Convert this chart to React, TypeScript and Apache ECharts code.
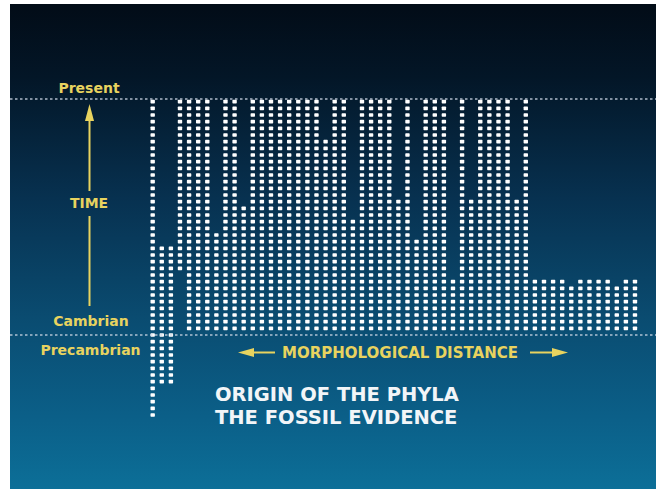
import React, { useEffect, useRef } from "react";
import * as echarts from "echarts";

// Phyla columns (left to right), rows of dots counted upward from the Cambrian line (0)
const phyla: number[] = Array.from({ length: 54 }, (_, i) => i);
const origins: number[] = [
  -12, -7, -7, 10, 1, 1, 1, 1, 1, 1,
  1, 1, 1, 1, 1, 1, 1, 1, 1, 1,
  1, 1, 1, 1, 1, 1, 1, 1, 1, 1,
  1, 1, 1, 1, 1, 1, 1, 1, 1, 1,
  1, 1, 1, 1, 1, 1, 1, 1, 1, 1,
  1, 1, 1, 1,
];
const ends: number[] = [
  35, 13, 13, 35, 35, 35, 35, 15, 35, 35,
  19, 35, 35, 35, 35, 35, 35, 35, 35, 29,
  35, 35, 17, 35, 35, 35, 35, 20, 35, 14,
  35, 35, 35, 8, 35, 20, 35, 35, 35, 35,
  20, 35, 8, 8, 8, 8, 7, 8, 8, 8,
  8, 7, 8, 8,
];
const presentLevel = 35.5;
const cambrianLevel = 0;
const timeLabels = ["Present", "TIME", "Cambrian", "Precambrian"];
const xTitle = "MORPHOLOGICAL DISTANCE";
const titleLines = ["ORIGIN OF THE PHYLA", "THE FOSSIL EVIDENCE"];

export default function App() {
  const ref = useRef<HTMLDivElement>(null);
  useEffect(() => {
    if (!ref.current) return;
    const chart = echarts.init(ref.current, undefined, { renderer: "svg" });
    const yellow = "#e8d35f";
    const font = "DejaVu Sans";
    const data = phyla.map((p, i) => [p, origins[i], ends[i]]);
    chart.setOption({
      animation: false,
      graphic: [
        {
          type: "rect",
          z: -10,
          shape: { x: 10, y: 4, width: 646, height: 485 },
          style: {
            fill: {
              type: "linear", x: 0, y: 0, x2: 0, y2: 1,
              colorStops: [
                { offset: 0, color: "#020c17" },
                { offset: 0.15, color: "#031627" },
                { offset: 0.4, color: "#073150" },
                { offset: 0.65, color: "#0a4c71" },
                { offset: 0.85, color: "#0b5f88" },
                { offset: 1, color: "#0c6f98" },
              ],
            },
          },
        },
        { type: "text", z: 10, x: 89, y: 88, style: { text: timeLabels[0], fill: yellow, font: `bold 14px "${font}"`, textAlign: "center", textVerticalAlign: "middle" } },
        { type: "text", z: 10, x: 89, y: 203, style: { text: timeLabels[1], fill: yellow, font: `bold 14px "${font}"`, textAlign: "center", textVerticalAlign: "middle" } },
        { type: "text", z: 10, x: 91, y: 320.5, style: { text: timeLabels[2], fill: yellow, font: `bold 14px "${font}"`, textAlign: "center", textVerticalAlign: "middle" } },
        { type: "text", z: 10, x: 90.5, y: 350, style: { text: timeLabels[3], fill: yellow, font: `bold 14px "${font}"`, textAlign: "center", textVerticalAlign: "middle" } },
        { type: "line", z: 10, shape: { x1: 89.5, y1: 118, x2: 89.5, y2: 191 }, style: { stroke: yellow, lineWidth: 2 } },
        { type: "line", z: 10, shape: { x1: 89.5, y1: 216, x2: 89.5, y2: 306 }, style: { stroke: yellow, lineWidth: 2 } },
        { type: "polygon", z: 10, shape: { points: [[89.5, 104], [85, 121], [94, 121]] }, style: { fill: yellow } },
        { type: "text", z: 10, x: 400, y: 352.5, style: { text: xTitle, fill: yellow, font: `bold 15px "${font}"`, textAlign: "center", textVerticalAlign: "middle" } },
        { type: "line", z: 10, shape: { x1: 250, y1: 352.5, x2: 275, y2: 352.5 }, style: { stroke: yellow, lineWidth: 2 } },
        { type: "polygon", z: 10, shape: { points: [[238, 352.5], [254, 348], [254, 357]] }, style: { fill: yellow } },
        { type: "line", z: 10, shape: { x1: 530, y1: 352.5, x2: 556, y2: 352.5 }, style: { stroke: yellow, lineWidth: 2 } },
        { type: "polygon", z: 10, shape: { points: [[568, 352.5], [552, 348], [552, 357]] }, style: { fill: yellow } },
        { type: "text", z: 10, x: 215, y: 394.5, style: { text: titleLines[0], fill: "#f2f5f8", font: `bold 19.5px "${font}"`, textAlign: "left", textVerticalAlign: "middle" } },
        { type: "text", z: 10, x: 215, y: 417.5, style: { text: titleLines[1], fill: "#f2f5f8", font: `bold 19.5px "${font}"`, textAlign: "left", textVerticalAlign: "middle" } },
      ],
      grid: { left: 10, right: 0, top: 5, bottom: 8 },
      xAxis: { type: "value", min: -15.68, max: 55.31, show: false },
      yAxis: { type: "value", min: -22.8, max: 49.5, show: false },
      series: [
        {
          type: "custom",
          data,
          encode: { x: 0, y: [1, 2] },
          renderItem: (params: any, api: any) => {
            const x = api.value(0);
            const lo = api.value(1);
            const hi = api.value(2);
            const children: any[] = [];
            for (let r = lo; r <= hi; r++) {
              const p = api.coord([x, r]);
              children.push({
                type: "rect",
                shape: { x: p[0] - 2.2, y: p[1] - 1.8, width: 4.4, height: 3.6, r: 0.7 },
                style: { fill: "#ffffff" },
              });
            }
            return { type: "group", children };
          },
          markLine: {
            silent: true,
            symbol: "none",
            label: { show: false },
            lineStyle: { type: [2.5, 2.5], color: "rgba(205,215,228,0.85)", width: 1.5 },
            data: [{ yAxis: presentLevel }, { yAxis: cambrianLevel }],
          },
        },
      ],
    });
    return () => chart.dispose();
  }, []);
  return (
    <div
      ref={ref}
      style={{ position: "absolute", left: 0, top: 0, width: 656, height: 495, background: "#ffffff" }}
    />
  );
}
